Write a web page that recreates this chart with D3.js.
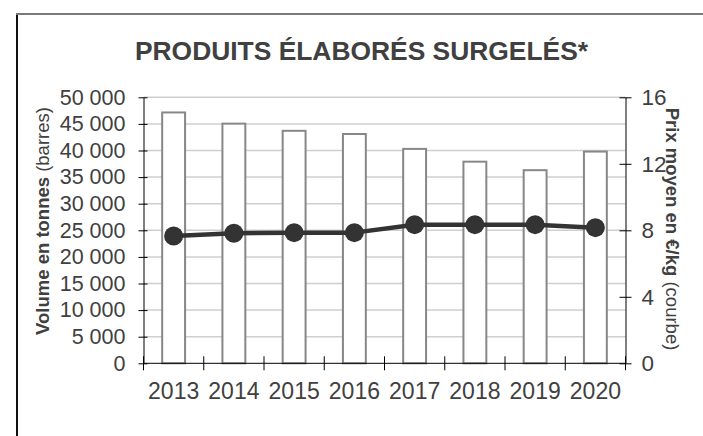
<!DOCTYPE html>
<html>
<head>
<meta charset="utf-8">
<script src="https://cdn.jsdelivr.net/npm/d3@7"></script>
<style>
  html, body { margin: 0; padding: 0; background: #fff; }
  svg { display: block; }
  text { font-family: "Liberation Sans", Arial, sans-serif; }
</style>
</head>
<body>
<svg id="chart" width="703" height="436"></svg>
<script>
const years = ["2013", "2014", "2015", "2016", "2017", "2018", "2019", "2020"];
const volumes = [47150, 45050, 43700, 43100, 40300, 37900, 36300, 39800];
const prices = [7.66, 7.82, 7.86, 7.86, 8.34, 8.34, 8.34, 8.16];
const leftTicks = [0, 5000, 10000, 15000, 20000, 25000, 30000, 35000, 40000, 45000, 50000];
const rightTicks = [0, 4, 8, 12, 16];
const titleText = "PRODUITS ÉLABORÉS SURGELÉS*";

(function () {
const svg = d3.select("#chart");
const W = 703, H = 436;
const pL = 143.5, pR = 625.5, pT = 97.3, pB = 363.3;
const textColor = "#404040";

// frame
svg.append("line").attr("x1", 17).attr("x2", 17).attr("y1", 14).attr("y2", H)
  .attr("stroke", "#111").attr("stroke-width", 2);
svg.append("line").attr("x1", 16).attr("x2", W).attr("y1", 14).attr("y2", 14)
  .attr("stroke", "#7a7a7a").attr("stroke-width", 2);

const x = d3.scaleBand().domain(years).range([pL, pR]).paddingInner(0.62).paddingOuter(0.31);
const yL = d3.scaleLinear().domain([0, 50000]).range([pB, pT]);
const yR = d3.scaleLinear().domain([0, 16]).range([pB, pT]);
const fmt = v => d3.format(",")(v).replace(/,/g, " ");

// gridlines
svg.append("g").selectAll("line").data(leftTicks.filter(d => d > 0)).join("line")
  .attr("x1", pL).attr("x2", pR)
  .attr("y1", d => yL(d)).attr("y2", d => yL(d))
  .attr("stroke", "#cfcfcf").attr("stroke-width", 1.5);

// bars
svg.append("g").selectAll("rect").data(years).join("rect")
  .attr("x", d => x(d))
  .attr("width", x.bandwidth())
  .attr("y", (d, i) => yL(volumes[i]))
  .attr("height", (d, i) => yL(0) - yL(volumes[i]))
  .attr("fill", "#fff").attr("stroke", "#878787").attr("stroke-width", 2);

// left axis
const gL = svg.append("g").attr("transform", `translate(${pL},0)`)
  .call(d3.axisLeft(yL).tickValues(leftTicks).tickFormat(fmt).tickSizeInner(5).tickSizeOuter(0).tickPadding(13));
gL.select(".domain").attr("stroke", "#000");
gL.selectAll(".tick line").attr("x2", -5).attr("x1", 4).attr("stroke", "#000");
gL.selectAll(".tick text").attr("x", -18).attr("font-size", 21.5).attr("fill", textColor);

// right axis
const gR = svg.append("g").attr("transform", `translate(${pR},0)`)
  .call(d3.axisRight(yR).tickValues(rightTicks).tickSizeInner(6).tickSizeOuter(0).tickPadding(10));
gR.select(".domain").attr("stroke", "#000");
gR.selectAll(".tick line").attr("x1", -6).attr("x2", 6).attr("stroke", "#000");
gR.selectAll(".tick text").attr("x", 16).attr("font-size", 22.5).attr("fill", textColor);

// bottom axis
const gB = svg.append("g").attr("transform", `translate(0,${pB})`)
  .call(d3.axisBottom(x).tickSize(0).tickPadding(0));
gB.select(".domain").remove();
svg.append("line").attr("x1", pL).attr("x2", pR).attr("y1", pB).attr("y2", pB).attr("stroke", "#000");
const stepB = (pR - pL) / years.length;
svg.append("g").selectAll("line").data(d3.range(years.length + 1)).join("line")
  .attr("x1", i => pL + i * stepB).attr("x2", i => pL + i * stepB)
  .attr("y1", pB - 7).attr("y2", pB + 7)
  .attr("stroke", "#000");
gB.selectAll(".tick text").attr("y", 35.5).attr("dy", 0).attr("font-size", 23).attr("fill", textColor);

// line
const cx = d => x(d) + x.bandwidth() / 2;
svg.append("path")
  .datum(years)
  .attr("d", d3.line().x(d => cx(d)).y((d, i) => yR(prices[i])))
  .attr("fill", "none").attr("stroke", "#333").attr("stroke-width", 4.5).attr("stroke-linejoin", "round");
svg.append("g").selectAll("circle").data(years).join("circle")
  .attr("cx", d => cx(d)).attr("cy", (d, i) => yR(prices[i])).attr("r", 9.5)
  .attr("fill", "#333");

// title
svg.append("text").attr("x", 361.5).attr("y", 60).attr("text-anchor", "middle")
  .attr("font-size", 26.4).attr("font-weight", "bold").attr("fill", textColor)
  .text(titleText);

// left axis title
const tL = svg.append("text").attr("transform", "translate(49,221) rotate(-90)")
  .attr("text-anchor", "middle").attr("font-size", 18.5).attr("fill", textColor);
tL.append("tspan").attr("font-weight", "bold").text("Volume en tonnes ");
tL.append("tspan").text("(barres)");

// right axis title
const tR = svg.append("text").attr("transform", "translate(666,229) rotate(90)")
  .attr("text-anchor", "middle").attr("font-size", 18.5).attr("fill", textColor);
tR.append("tspan").attr("font-weight", "bold").text("Prix moyen en €/kg ");
tR.append("tspan").text("(courbe)");
})();
</script>
</body>
</html>
